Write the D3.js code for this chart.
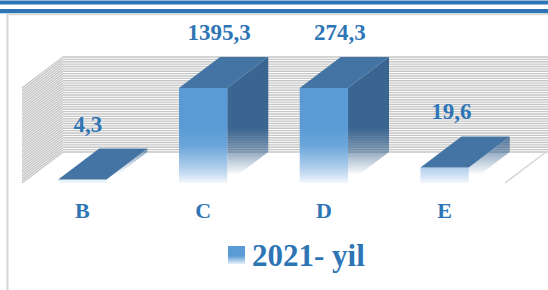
<!DOCTYPE html>
<html><head><meta charset="utf-8">
<script src="https://cdn.jsdelivr.net/npm/d3@7"></script>
<style>html,body{margin:0;padding:0;background:#fff;}svg{display:block;}</style>
</head><body>
<script>
const categories = ["B", "C", "D", "E"];
const values2021 = [4.3, 1395.3, 274.3, 19.6];
const valueLabels = ["4,3", "1395,3", "274,3", "19,6"];
const seriesName = "2021- yil";
const axisMax = 120, gridStep = 3;

const W = 548, H = 290;
const DX = 41, DY = 31;
const floorY = 183, topY = 88;
const svg = d3.select("body").append("svg").attr("width", W).attr("height", H);
const defs = svg.append("defs");

const blue = "#2E75B6";
// page decorations
svg.append("rect").attr("x",0).attr("y",0.5).attr("width",W).attr("height",4).attr("fill",blue);
svg.append("rect").attr("x",0).attr("y",9).attr("width",W).attr("height",4.3).attr("fill",blue);
svg.append("line").attr("x1",7.5).attr("x2",W).attr("y1",14.5).attr("y2",14.5).attr("stroke","#dcdcdc").attr("stroke-width",1.5);
svg.append("line").attr("x1",7.5).attr("x2",7.5).attr("y1",14).attr("y2",H).attr("stroke","#d6d6d6").attr("stroke-width",2);

const x = d3.scaleBand().domain(categories).range([22, 505]).paddingInner(0.6).paddingOuter(0.3);
const y = d3.scaleLinear().domain([0, axisMax]).range([floorY, topY]).clamp(true);

// grid lines: back wall and side wall
const ticks = d3.range(0, axisMax + 0.001, gridStep);
const grid = svg.append("g").attr("stroke", "#c6c6c6").attr("stroke-width", 1.3).attr("fill","none");
ticks.forEach(t => {
  const yf = y(t);
  grid.append("line").attr("x1", 22 + DX).attr("x2", W).attr("y1", yf - DY).attr("y2", yf - DY);
  grid.append("path").attr("d", `M22,${yf}L${22+DX},${yf-DY}`);
});
// floor right edge
svg.append("line").attr("x1",505).attr("y1",floorY).attr("x2",505+DX).attr("y2",floorY-DY)
  .attr("stroke","#d6d6d6").attr("stroke-width",1.5);

// gradients
const gFront = defs.append("linearGradient").attr("id","gFront").attr("gradientUnits","userSpaceOnUse")
  .attr("x1",0).attr("y1",128).attr("x2",0).attr("y2",186);
gFront.append("stop").attr("offset",0).attr("stop-color","#5B9BD5");
gFront.append("stop").attr("offset",0.3).attr("stop-color","#6aa5da");
gFront.append("stop").attr("offset",0.7).attr("stop-color","#b3d0ec");
gFront.append("stop").attr("offset",1).attr("stop-color","#ffffff");

const gSide = defs.append("linearGradient").attr("id","gSide").attr("gradientUnits","userSpaceOnUse")
  .attr("x1",0).attr("y1",128).attr("x2",0).attr("y2",175);
gSide.append("stop").attr("offset",0).attr("stop-color","#3A6591").attr("stop-opacity",1);
gSide.append("stop").attr("offset",0.5).attr("stop-color","#3A6591").attr("stop-opacity",0.55);
gSide.append("stop").attr("offset",1).attr("stop-color","#3A6591").attr("stop-opacity",0);

const bars = svg.append("g");
categories.forEach((c, i) => {
  const x0 = x(c), x1 = x0 + x.bandwidth();
  const yt = y(values2021[i]);
  const yb = floorY;
  // side face
  bars.append("path").attr("fill","url(#gSide)")
    .attr("d", `M${x1},${yt}L${x1+DX},${yt-DY}L${x1+DX},${yb-DY}L${x1},${yb}Z`);
  // front face
  bars.append("rect").attr("x", x0).attr("y", yt).attr("width", x.bandwidth()).attr("height", Math.max(1, yb - yt))
    .attr("fill","url(#gFront)");
  // top face
  bars.append("path").attr("fill","#4374A3")
    .attr("d", `M${x0},${yt}L${x1},${yt}L${x1+DX},${yt-DY}L${x0+DX},${yt-DY}Z`);
  // value label
  const h = yb - yt;
  svg.append("text").attr("x", (x0+x1)/2 + 5 + 11*(h/(floorY-topY))).attr("y", yt - DY - 17)
    .attr("text-anchor","middle").attr("font-family","'Liberation Serif','Times New Roman',serif")
    .attr("font-weight","bold").attr("font-size",23).attr("fill",blue).text(valueLabels[i]);
  // category label
  svg.append("text").attr("x", (x0+x1)/2).attr("y", 218)
    .attr("text-anchor","middle").attr("font-family","'Liberation Serif','Times New Roman',serif")
    .attr("font-weight","bold").attr("font-size",22).attr("fill",blue).text(c);
});

// legend
const gLeg = defs.append("linearGradient").attr("id","gLeg").attr("x1",0).attr("y1",0).attr("x2",0).attr("y2",1);
gLeg.append("stop").attr("offset",0).attr("stop-color","#5B9BD5");
gLeg.append("stop").attr("offset",0.55).attr("stop-color","#5B9BD5");
gLeg.append("stop").attr("offset",1).attr("stop-color","#e6f0fa");
svg.append("rect").attr("x",228).attr("y",246).attr("width",17).attr("height",18).attr("fill","url(#gLeg)");
svg.append("text").attr("x",252).attr("y",266).attr("font-family","'Liberation Serif','Times New Roman',serif")
  .attr("font-weight","bold").attr("font-size",31).attr("fill",blue).text(seriesName);
</script>
</body></html>
